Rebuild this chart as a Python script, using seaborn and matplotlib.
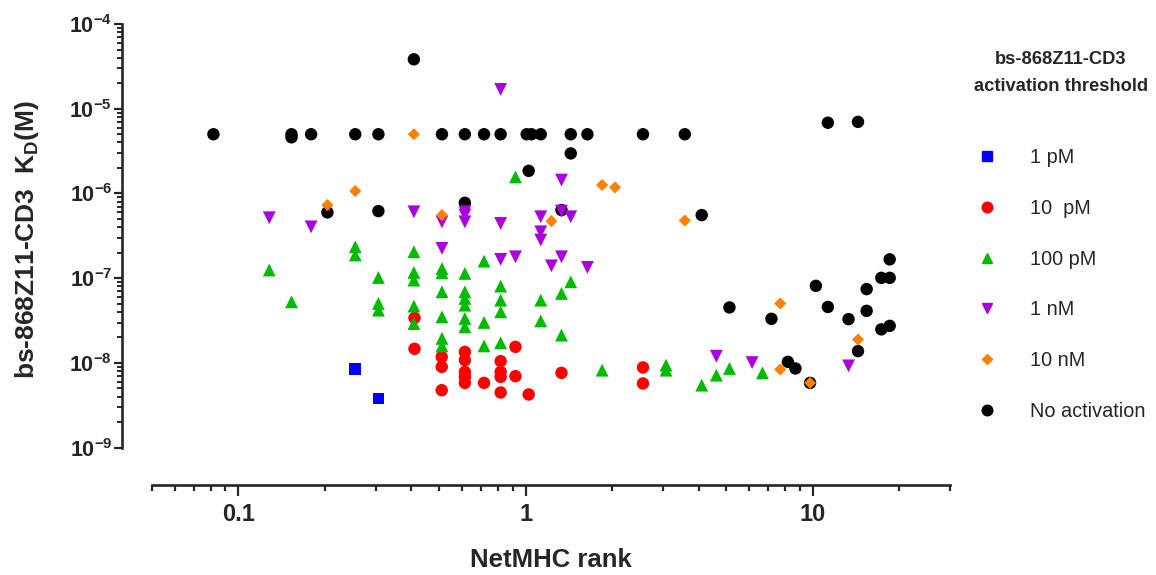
import numpy as np
import pandas as pd
import matplotlib
matplotlib.use("Agg")
import matplotlib.pyplot as plt
import matplotlib.ticker as mticker
from matplotlib.lines import Line2D
import seaborn as sns

# NetMHC rank (x) e KD (y) por limiar de ativacao
x_1pM = [0.255, 0.307]
kd_1pM = [8.5e-9, 3.8e-9]

x_10pM = [0.41, 0.41, 0.51, 0.51, 0.51, 0.614, 0.614, 0.614, 0.614, 0.614,
          0.716, 0.818, 0.818, 0.818, 0.818, 0.921, 0.921, 1.024, 1.332,
          2.56, 2.56]
kd_10pM = [3.4e-8, 1.47e-8, 1.18e-8, 9.0e-9, 4.77e-9, 1.35e-8, 1.08e-8,
           7.85e-9, 6.85e-9, 5.82e-9, 5.82e-9, 1.05e-8, 7.85e-9, 6.85e-9,
           4.48e-9, 1.55e-8, 6.98e-9, 4.25e-9, 7.64e-9, 8.85e-9, 5.73e-9]

x_100pM = [0.128, 0.153, 0.255, 0.255, 0.307, 0.307, 0.307, 0.408, 0.408,
           0.408, 0.408, 0.408, 0.511, 0.511, 0.511, 0.511, 0.511, 0.511,
           0.614, 0.614, 0.614, 0.614, 0.614, 0.614, 0.716, 0.716, 0.716,
           0.818, 0.818, 0.818, 0.818, 0.921, 1.128, 1.128, 1.332, 1.332,
           1.435, 1.845, 3.08, 3.08, 4.10, 4.61, 5.12, 6.67]
kd_100pM = [1.25e-7, 5.26e-8, 2.35e-7, 1.88e-7, 1.02e-7, 5.04e-8, 4.2e-8,
            2.05e-7, 1.17e-7, 9.5e-8, 4.69e-8, 2.92e-8, 1.30e-7, 1.16e-7,
            6.91e-8, 3.5e-8, 1.95e-8, 1.59e-8, 1.14e-7, 6.91e-8, 5.78e-8,
            4.81e-8, 3.35e-8, 2.67e-8, 1.59e-7, 3.01e-8, 1.59e-8, 8.07e-8,
            5.51e-8, 4.01e-8, 1.73e-8, 1.57e-6, 5.51e-8, 3.14e-8, 6.62e-8,
            2.13e-8, 9.07e-8, 8.22e-9, 9.42e-9, 8.22e-9, 5.47e-9, 7.18e-9,
            8.61e-9, 7.64e-9]

x_1nM = [0.128, 0.179, 0.408, 0.511, 0.511, 0.614, 0.614, 0.614, 0.818,
         0.818, 0.818, 0.921, 1.128, 1.128, 1.128, 1.229, 1.332, 1.332,
         1.332, 1.435, 1.64, 4.61, 6.14, 13.3]
kd_1nM = [5.17e-7, 4.04e-7, 6.08e-7, 4.63e-7, 2.25e-7, 6.08e-7, 5.56e-7,
          4.63e-7, 1.69e-5, 4.43e-7, 1.67e-7, 1.79e-7, 5.31e-7, 3.53e-7,
          2.82e-7, 1.40e-7, 6.2e-7, 1.44e-6, 1.79e-7, 5.31e-7, 1.34e-7,
          1.20e-8, 1.01e-8, 9.24e-9]

x_10nM = [0.204, 0.255, 0.408, 0.511, 1.229, 1.845, 2.047, 3.58, 7.69,
          7.69, 9.77, 14.35]
kd_10nM = [7.3e-7, 1.07e-6, 5e-6, 5.56e-7, 4.72e-7, 1.26e-6, 1.18e-6,
           4.8e-7, 5.04e-8, 8.37e-9, 5.82e-9, 1.89e-8]

x_none = [0.408, 0.0818, 0.153, 0.153, 0.179, 0.255, 0.307, 0.511, 0.614,
          0.716, 0.818, 1.008, 1.047, 1.128, 1.435, 1.64, 2.56, 3.58,
          1.435, 1.024, 11.27, 14.35, 0.614, 0.204, 0.307, 1.332, 4.10,
          18.5, 17.3, 18.5, 10.24, 15.38, 5.12, 11.27, 7.17, 13.3, 15.38,
          17.3, 18.5, 14.35, 8.18, 8.69, 9.77]
kd_none = [3.83e-5, 5e-6, 5e-6, 4.6e-6, 5e-6, 5e-6, 5e-6, 5e-6, 5e-6,
           5e-6, 5e-6, 5e-6, 5e-6, 5e-6, 5e-6, 5e-6, 5e-6, 5e-6,
           2.97e-6, 1.85e-6, 6.84e-6, 7.0e-6, 7.76e-7, 5.98e-7, 6.2e-7,
           6.37e-7, 5.56e-7, 1.67e-7, 1.01e-7, 1.01e-7, 8.13e-8, 7.44e-8,
           4.52e-8, 4.58e-8, 3.32e-8, 3.29e-8, 4.12e-8, 2.49e-8, 2.74e-8,
           1.38e-8, 1.03e-8, 8.61e-9, 5.82e-9]

grupos = ["1 pM", "10  pM", "100 pM", "1 nM", "10 nM", "No activation"]
cores = ["#0000FF", "#FF0000", "#00BB00", "#AA00DD", "#FF8000", "#000000"]
marcadores = ["s", "o", "^", "v", "D", "o"]
tamanhos = [70, 80, 85, 85, 38, 80]
ordem_z = [7, 4, 5, 6, 6.5, 3]
dados = [(x_1pM, kd_1pM), (x_10pM, kd_10pM), (x_100pM, kd_100pM),
         (x_1nM, kd_1nM), (x_10nM, kd_10nM), (x_none, kd_none)]

df = pd.concat(
    [pd.DataFrame({"rank": x, "kd": y, "grupo": g}) for (x, y), g in zip(dados, grupos)],
    ignore_index=True,
)

sns.set_style("ticks")
plt.rcParams["font.family"] = ["Liberation Sans", "DejaVu Sans"]
plt.rcParams["mathtext.fontset"] = "custom"
plt.rcParams["mathtext.bf"] = "Liberation Sans:bold"
plt.rcParams["mathtext.rm"] = "Liberation Sans:bold"
plt.rcParams["mathtext.default"] = "bf"

fig = plt.figure(figsize=(11.56, 5.75), dpi=100)
ax = fig.add_axes([152 / 1156, 1 - 447.7 / 575, 798 / 1156, 423.7 / 575])

for g, cor, m, s, z in zip(grupos, cores, marcadores, tamanhos, ordem_z):
    sns.scatterplot(data=df[df["grupo"] == g], x="rank", y="kd", color=cor,
                    marker=m, s=s, linewidth=0, edgecolor="none", ax=ax,
                    zorder=z, legend=False)

ax.set_xscale("log")
ax.set_yscale("log")
ax.set_xlim(0.05, 30)
ax.set_ylim(1e-9, 1e-4)

# Eixos no estilo Prism (deslocados)
for lado in ["top", "right"]:
    ax.spines[lado].set_visible(False)
ax.spines["left"].set_position(("outward", 21.6))
ax.spines["bottom"].set_position(("outward", 26.6))
ax.spines["left"].set_linewidth(1.9)
ax.spines["bottom"].set_linewidth(1.9)

ax.xaxis.set_major_locator(mticker.FixedLocator([0.1, 1, 10]))
ax.xaxis.set_major_formatter(mticker.FixedFormatter(["0.1", "1", "10"]))
ax.xaxis.set_minor_locator(mticker.LogLocator(base=10, subs=np.arange(2, 10), numticks=20))
ax.xaxis.set_minor_formatter(mticker.NullFormatter())
ax.yaxis.set_major_locator(mticker.LogLocator(base=10, numticks=10))
ax.yaxis.set_major_formatter(mticker.FuncFormatter(lambda v, p: r"$\mathbf{10^{%d}}$" % round(np.log10(v))))
ax.yaxis.set_minor_locator(mticker.LogLocator(base=10, subs=np.arange(2, 10), numticks=20))
ax.yaxis.set_minor_formatter(mticker.NullFormatter())

ax.tick_params(axis="x", which="major", direction="out", length=8, width=1.6, pad=5)
ax.tick_params(axis="x", which="minor", direction="out", length=4, width=1.6)
ax.tick_params(axis="y", which="major", direction="out", length=6, width=1.6, pad=1,
               labelsize=15.5)
ax.tick_params(axis="y", which="minor", direction="out", length=3.5, width=1.4)
for lab in ax.get_xticklabels():
    lab.set_family(["Liberation Sans Narrow", "Liberation Sans"])
    lab.set_fontweight("bold")
    lab.set_fontsize(17)
for lab in ax.get_yticklabels():
    lab.set_fontweight("bold")

ax.set_xlabel("NetMHC rank", fontsize=18.5, fontweight="bold", labelpad=16)
ax.set_ylabel("bs-868Z11-CD3  K$_{\\mathbf{D}}$(M)", fontsize=19, fontweight="bold")
ax.yaxis.set_label_coords(-0.139, 0.49)

# Legenda
fig.text(1061 / 1156, 1 - 73 / 575, "bs-868Z11-CD3\nactivation threshold",
         ha="center", va="center", fontsize=13.2, fontweight="bold", linespacing=1.75)
handles = [Line2D([], [], linestyle="none", marker=m, color=c,
                  markersize=np.sqrt(s) * 0.85)
           for m, c, s in zip(marcadores, cores, tamanhos)]
fig.legend(handles, grupos, loc="upper left", bbox_to_anchor=(977 / 1156, 1 - 148 / 575),
           frameon=False, fontsize=14.3, handlelength=1.0, handletextpad=1.66,
           labelspacing=1.6, borderpad=0, borderaxespad=0)

fig.savefig("out.png", dpi=100)
